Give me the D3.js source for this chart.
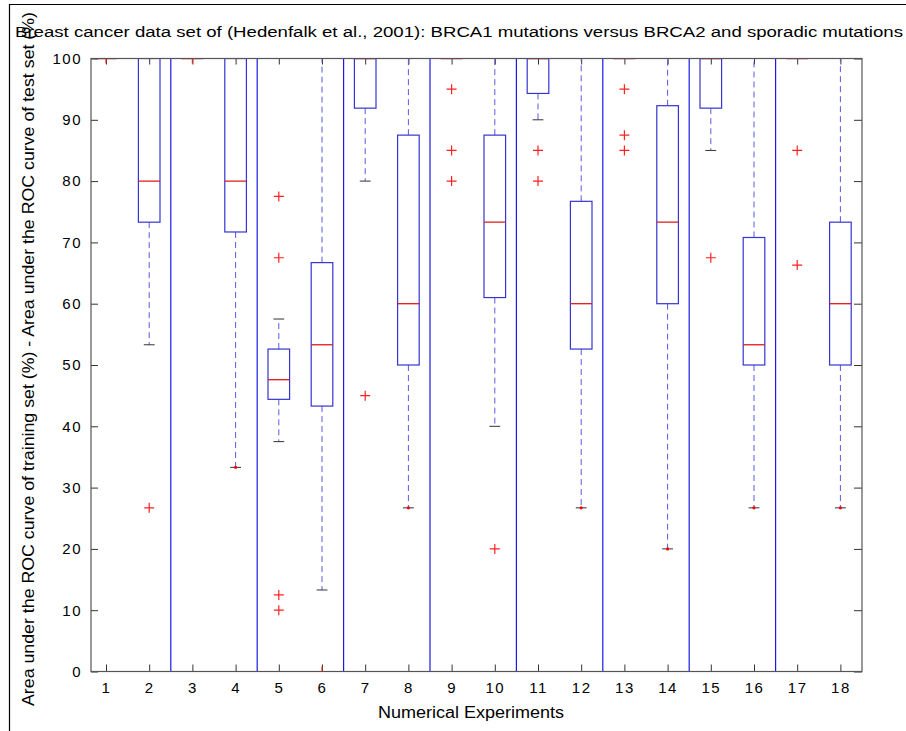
<!DOCTYPE html>
<html>
<head>
<meta charset="utf-8">
<script src="https://cdn.jsdelivr.net/npm/d3@7"></script>
<style>
  body { margin: 0; background: #fff; }
  svg { display: block; }
  text { font-family: "Liberation Sans", Arial, Helvetica, sans-serif; fill: #000; }
</style>
</head>
<body>
<svg id="chart" width="906" height="731"></svg>
<script>
// ---------- data ----------
const experiments = [1,2,3,4,5,6,7,8,9,10,11,12,13,14,15,16,17,18];
const q1          = [100, 73.3, 100, 71.7, 44.4, 43.3, 91.9, 50.0, 100, 61.0, 94.3, 52.6, 100, 60.0, 91.9, 50.0, 100, 50.0];
const medians     = [100, 80.0, 100, 80.0, 47.6, 53.3, 100, 60.0, 100, 73.3, 100, 60.0, 100, 73.3, 100, 53.3, 100, 60.0];
const q3          = [100, 100, 100, 100, 52.6, 66.7, 100, 87.5, 100, 87.5, 100, 76.7, 100, 92.3, 100, 70.8, 100, 73.3];
const whiskerLow  = [100, 53.3, 100, 33.3, 37.5, 13.3, 80.0, 26.7, 100, 40.0, 90.0, 26.7, 100, 20.0, 85.0, 26.7, 100, 26.7];
const whiskerHigh = [100, 100, 100, 100, 57.5, 100, 100, 100, 100, 100, 100, 100, 100, 100, 100, 100, 100, 100];
const outliers    = [[100],[26.7],[100],[],[77.5,67.5,12.5,10],[0],[45],[],[95,85,80],[20],[85,80],[],[95,87.5,85],[],[67.5],[],[85,66.3],[]];
const lowEndMarks = [null,null,null,33.3,null,null,null,26.7,null,null,null,26.7,null,20.0,null,26.7,null,26.7];
const separators  = [2.5,4.5,6.5,8.5,10.5,12.5,14.5,16.5];
const yTicks      = [0,10,20,30,40,50,60,70,80,90,100];
const titleText   = "Breast cancer data set of (Hedenfalk et al., 2001): BRCA1 mutations versus BRCA2 and sporadic mutations";
const xLabelText  = "Numerical Experiments";
const yLabelText  = "Area under the ROC curve of training set (%) - Area under the ROC curve of test set (%)";

// ---------- layout ----------
const svg = d3.select("#chart");
const plot = {left: 91, right: 862, top: 58.5, bottom: 671.5};
const x = d3.scaleLinear().domain([1, 18]).range([106, 840.4]);
const y = d3.scaleLinear().domain([0, 100]).range([plot.bottom, plot.top]);
const unit = x(2) - x(1);
const boxHalf = unit * 0.25;
const capHalf = unit * 0.125;

svg.append("rect").attr("width", 906).attr("height", 731).attr("fill", "#fff");

// outer figure border (left and top)
svg.append("line").attr("x1", 9.5).attr("x2", 9.5).attr("y1", 4).attr("y2", 731).attr("stroke", "#000").attr("stroke-width", 1.2);
svg.append("line").attr("x1", 9).attr("x2", 906).attr("y1", 4.5).attr("y2", 4.5).attr("stroke", "#000").attr("stroke-width", 1.2);

// ---------- axes (drawn under the marks) ----------
function styleAxis(sel) {
  sel.select(".domain").remove();
  sel.selectAll(".tick line").attr("stroke", "#333");
  sel.selectAll(".tick text").style("font-size", "15px").style("letter-spacing", "1.5px")
    .attr("fill", "#000");
}
svg.append("g").attr("transform", `translate(0,${plot.bottom})`)
  .call(d3.axisBottom(x).tickValues(experiments).tickSize(-7).tickPadding(11).tickFormat(d3.format("d")))
  .call(styleAxis);
svg.append("g").attr("transform", `translate(0,${plot.top})`)
  .call(d3.axisTop(x).tickValues(experiments).tickSize(-6).tickFormat(""))
  .call(styleAxis);
svg.append("g").attr("transform", `translate(${plot.left},0)`)
  .call(d3.axisLeft(y).tickValues(yTicks).tickSize(-7).tickPadding(9).tickFormat(d3.format("d")))
  .call(styleAxis);
svg.append("g").attr("transform", `translate(${plot.right},0)`)
  .call(d3.axisRight(y).tickValues(yTicks).tickSize(-8).tickFormat(""))
  .call(styleAxis);

svg.append("defs").append("clipPath").attr("id", "clip")
  .append("rect").attr("x", plot.left).attr("y", plot.top)
  .attr("width", plot.right - plot.left).attr("height", plot.bottom - plot.top);

const g = svg.append("g").attr("clip-path", "url(#clip)");

// separators
g.selectAll("line.sep").data(separators).enter().append("line")
  .attr("class", "sep")
  .attr("x1", d => x(d)).attr("x2", d => x(d))
  .attr("y1", plot.top).attr("y2", plot.bottom)
  .attr("stroke", "#1a1ae6").attr("stroke-width", 1.2);

const boxes = experiments.map((e, i) => ({
  e, q1: q1[i], med: medians[i], q3: q3[i], lo: whiskerLow[i], hi: whiskerHigh[i],
  out: outliers[i], mark: lowEndMarks[i]
}));

const bg = g.selectAll("g.box").data(boxes).enter().append("g").attr("class", "box");

// whiskers (dashed)
bg.filter(d => d.hi > d.q3).append("line")
  .attr("x1", d => x(d.e)).attr("x2", d => x(d.e))
  .attr("y1", d => y(d.q3)).attr("y2", d => y(d.hi))
  .attr("stroke", "#5a5adc").attr("stroke-width", 1).attr("stroke-dasharray", "6,4");
bg.filter(d => d.lo < d.q1).append("line")
  .attr("x1", d => x(d.e)).attr("x2", d => x(d.e))
  .attr("y1", d => y(d.q1)).attr("y2", d => y(d.lo))
  .attr("stroke", "#5a5adc").attr("stroke-width", 1).attr("stroke-dasharray", "6,4");
// caps
bg.append("line")
  .attr("x1", d => x(d.e) - capHalf).attr("x2", d => x(d.e) + capHalf)
  .attr("y1", d => y(d.lo)).attr("y2", d => y(d.lo))
  .attr("stroke", "#333").attr("stroke-width", 1);
bg.append("line")
  .attr("x1", d => x(d.e) - capHalf).attr("x2", d => x(d.e) + capHalf)
  .attr("y1", d => y(d.hi)).attr("y2", d => y(d.hi))
  .attr("stroke", "#333").attr("stroke-width", 1);
// box
bg.append("rect")
  .attr("x", d => x(d.e) - boxHalf).attr("width", boxHalf * 2)
  .attr("y", d => y(d.q3)).attr("height", d => y(d.q1) - y(d.q3))
  .attr("fill", "none").attr("stroke", "#3535d0").attr("stroke-width", 1.2);
// median
bg.append("line")
  .attr("x1", d => x(d.e) - boxHalf).attr("x2", d => x(d.e) + boxHalf)
  .attr("y1", d => y(d.med)).attr("y2", d => y(d.med))
  .attr("stroke", "#e01818").attr("stroke-width", 1.3);
// red dot at whisker end
bg.filter(d => d.mark !== null).append("circle")
  .attr("cx", d => x(d.e)).attr("cy", d => y(d.mark)).attr("r", 1.6)
  .attr("fill", "#ff0000");
// outliers (+)
bg.each(function(d) {
  d3.select(this).selectAll("path.out").data(d.out).enter().append("path")
    .attr("class", "out")
    .attr("d", v => `M${x(d.e) - 5},${y(v)}H${x(d.e) + 5}M${x(d.e)},${y(v) - 5}V${y(v) + 5}`)
    .attr("stroke", "#ff2020").attr("stroke-width", 1.2).attr("fill", "none");
});

// frame
svg.append("rect").attr("x", plot.left).attr("y", plot.top)
  .attr("width", plot.right - plot.left).attr("height", plot.bottom - plot.top)
  .attr("fill", "none").attr("stroke", "#555").attr("stroke-width", 1.2);

// ---------- texts ----------
svg.append("text").attr("x", 15).attr("y", 37)
  .attr("textLength", 888).attr("lengthAdjust", "spacingAndGlyphs")
  .style("font-size", "15.5px").text(titleText);
svg.append("text").attr("x", 471).attr("y", 718).attr("text-anchor", "middle")
  .attr("textLength", 186).attr("lengthAdjust", "spacingAndGlyphs")
  .style("font-size", "16px").text(xLabelText);
svg.append("text").attr("transform", "translate(34,359) rotate(-90)").attr("text-anchor", "middle")
  .attr("textLength", 694).attr("lengthAdjust", "spacingAndGlyphs")
  .style("font-size", "16.5px").text(yLabelText);
</script>
</body>
</html>
